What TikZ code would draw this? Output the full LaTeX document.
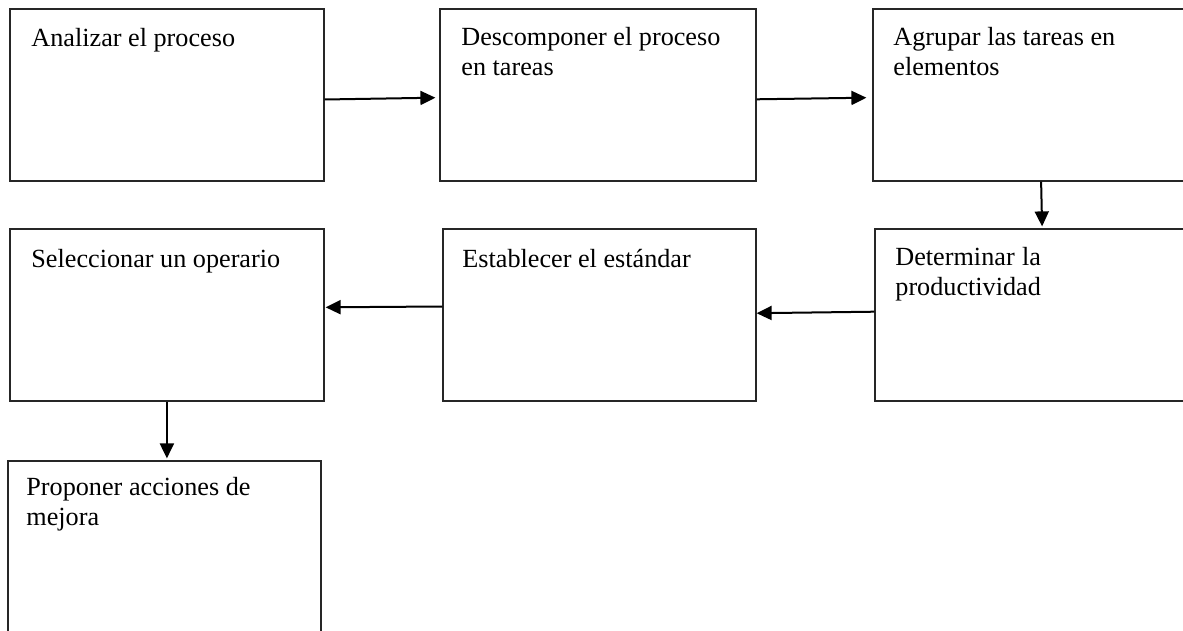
\documentclass[tikz,border=0pt]{standalone}
\usepackage{fontspec}
\setmainfont{Liberation Serif}
\usetikzlibrary{arrows.meta,fit}
\newlength\prodw
\begin{document}
\begin{tikzpicture}[x=0.5pt,y=-0.5pt,
  stepbox/.style={draw=black!85,line width=0.6pt,inner sep=0pt,rectangle},
  lbl/.style={anchor=base west,inner sep=0pt,align=left,
    font=\fontsize{13.1pt}{14.8pt}\selectfont},
  flow/.style={line width=1pt,-{Triangle[length=7.5pt,width=7pt]}}]
\useasboundingbox[fill=white] (0,0) rectangle (1183,631);

% process boxes
\node[stepbox,fit={(10,9) (324,181)}] (b1) {};
\node[stepbox,fit={(440,9) (756,181)}] (b2) {};
\node[stepbox,fit={(873,9) (1200,181)}] (b3) {};
\node[stepbox,fit={(10,229) (324,401)}] (b4) {};
\node[stepbox,fit={(443,229) (756,401)}] (b5) {};
\node[stepbox,fit={(875,229) (1200,401)}] (b6) {};
\node[stepbox,fit={(8,461) (321,640)}] (b7) {};

% box texts (base anchor sits on the last line)
\node[lbl] (t1) at (31,46.5) {Analizar el proceso};
\node[lbl] (t2) at (461,75.5) {Descomponer el proceso\\en tareas};
\node[lbl] (t3) at (893,75.5) {Agrupar las tareas en\\elementos};
\node[lbl] (t4) at (31,267) {Seleccionar un operario};
\node[lbl] (t5) at (462,267) {Establecer el estándar};
\node[lbl] (t6) at (895,295.5) {\settowidth{\prodw}{productividad}\makebox[\prodw][s]{Determinar la}\\productividad};
\node[lbl] (t7) at (26,525) {Proponer acciones de\\mejora};

% connectors
\draw[flow] ([yshift=-2.25pt]b1.east) -- ([xshift=-2pt,yshift=-1.35pt]b2.west);
\draw[flow] ([yshift=-2.15pt]b2.east) -- ([xshift=-3pt,yshift=-1.35pt]b3.west);
\draw[flow] ([xshift=84.35pt]b3.south west) -- ([xshift=83.85pt,yshift=1pt]b6.north west);
\draw[flow] ([yshift=1.65pt]b6.west) -- ([yshift=0.9pt]b5.east);
\draw[flow] ([yshift=4.25pt]b5.west) -- ([xshift=0.5pt,yshift=3.85pt]b4.east);
\draw[flow] ([xshift=78.75pt]b4.south west) -- ([xshift=79.75pt,yshift=1pt]b7.north west);
\end{tikzpicture}
\end{document}
